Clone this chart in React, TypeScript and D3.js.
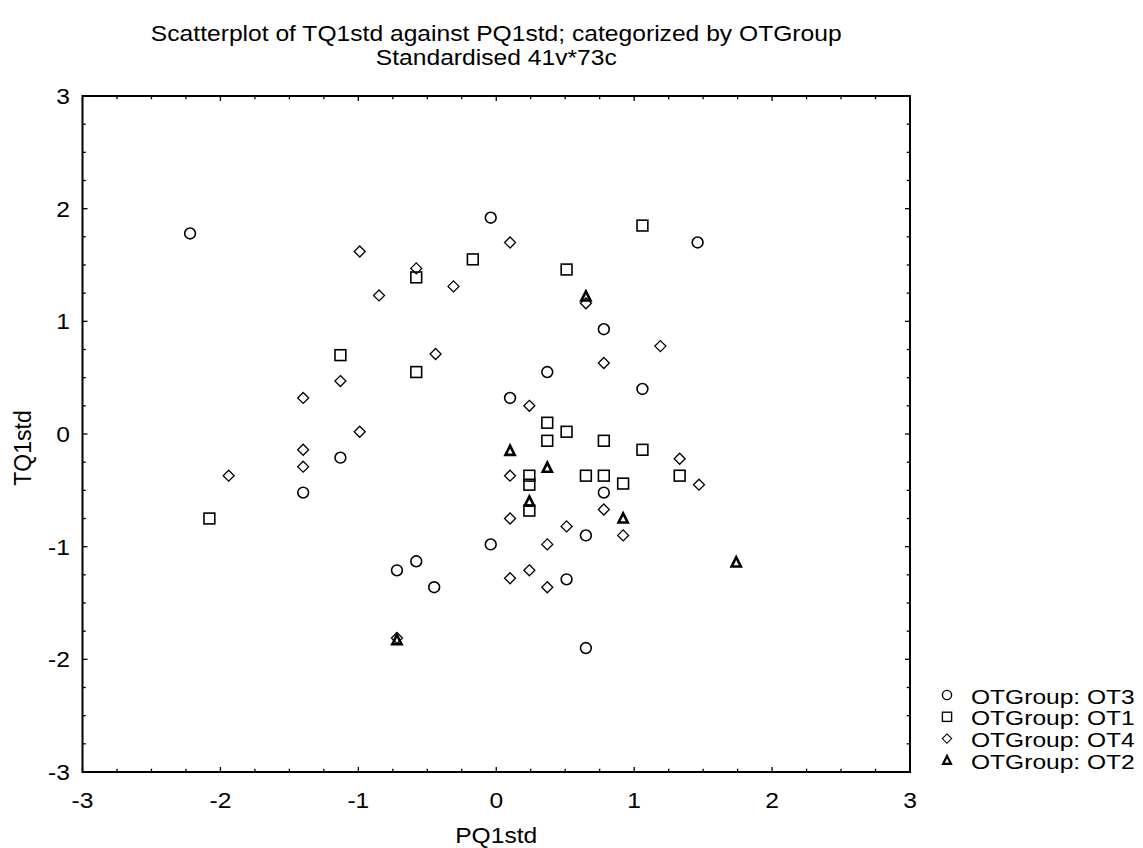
import React from "react";
import * as d3 from "d3";

const W = 1143;
const H = 848;

const titleLines = [
  "Scatterplot of TQ1std against PQ1std; categorized by OTGroup",
  "Standardised 41v*73c",
];
const xLabel = "PQ1std";
const yLabel = "TQ1std";
const tickValues = [-3, -2, -1, 0, 1, 2, 3];

// OTGroup: OT3 (circles)
const ot3X = [-2.22, -0.04, 1.46, 0.78, 0.37, 1.06, 0.10, -1.13, -1.40, 0.78, 0.65, -0.04, -0.58, -0.72, 0.51, -0.45, 0.65];
const ot3Y = [1.78, 1.92, 1.70, 0.93, 0.55, 0.40, 0.32, -0.21, -0.52, -0.52, -0.90, -0.98, -1.13, -1.21, -1.29, -1.36, -1.90];
// OTGroup: OT1 (squares)
const ot1X = [1.06, -0.17, 0.51, -0.58, -1.13, -0.58, 0.37, 0.51, 0.37, 0.78, 1.06, 0.24, 0.24, 0.65, 0.78, 0.92, 1.33, 0.24, -2.08];
const ot1Y = [1.85, 1.55, 1.46, 1.39, 0.70, 0.55, 0.10, 0.02, -0.06, -0.06, -0.14, -0.37, -0.45, -0.37, -0.37, -0.44, -0.37, -0.68, -0.75];
// OTGroup: OT4 (diamonds)
const ot4X = [0.10, -0.99, -0.58, -0.31, -0.85, 0.65, 1.19, -0.44, 0.78, -1.13, -1.40, 0.24, -0.99, -1.40, 1.33, -1.40, -1.94, 0.10, 1.47, 0.78, 0.10, 0.51, 0.92, 0.37, 0.24, 0.10, 0.37, -0.72];
const ot4Y = [1.70, 1.62, 1.47, 1.31, 1.23, 1.16, 0.78, 0.71, 0.63, 0.47, 0.32, 0.25, 0.02, -0.14, -0.22, -0.29, -0.37, -0.37, -0.45, -0.67, -0.75, -0.82, -0.90, -0.98, -1.21, -1.28, -1.36, -1.81];
// OTGroup: OT2 (triangles)
const ot2X = [0.65, 0.10, 0.37, 0.24, 0.92, 1.74, -0.72];
const ot2Y = [1.22, -0.15, -0.30, -0.60, -0.75, -1.14, -1.83];

const groups = [
  { name: "OTGroup: OT3", shape: "circle", xs: ot3X, ys: ot3Y },
  { name: "OTGroup: OT1", shape: "square", xs: ot1X, ys: ot1Y },
  { name: "OTGroup: OT4", shape: "diamond", xs: ot4X, ys: ot4Y },
  { name: "OTGroup: OT2", shape: "triangle", xs: ot2X, ys: ot2Y },
];

const FONT = "'Liberation Sans', Arial, Helvetica, sans-serif";

function Marker({ shape, x, y }: { shape: string; x: number; y: number }) {
  if (shape === "circle") {
    return <circle cx={x} cy={y} r={5.4} fill="none" stroke="#000" strokeWidth={1.6} />;
  }
  if (shape === "square") {
    return <rect x={x - 5.4} y={y - 5.4} width={10.8} height={10.8} fill="none" stroke="#000" strokeWidth={1.6} />;
  }
  if (shape === "diamond") {
    const r = 5.5;
    return (
      <path d={`M${x},${y - r}L${x + r},${y}L${x},${y + r}L${x - r},${y}Z`} fill="none" stroke="#000" strokeWidth={1.3} />
    );
  }
  const h = 4.6;
  return (
    <path d={`M${x},${y - h - 0.6}L${x + h},${y + h - 0.6}L${x - h},${y + h - 0.6}Z`} fill="none" stroke="#000" strokeWidth={2.6} strokeLinejoin="miter" />
  );
}

function SText({ x, y, anchor, size, sx, children }: any) {
  return (
    <text transform={`translate(${x},${y}) scale(${sx},1)`} textAnchor={anchor} fontSize={size} fontFamily={FONT} fill="#000">
      {children}
    </text>
  );
}

export default function App() {
  const left = 82.5, right = 910, top = 96, bottom = 772;
  const x = d3.scaleLinear().domain([-3, 3]).range([left, right]);
  const y = d3.scaleLinear().domain([-3, 3]).range([bottom, top]);
  const minor = d3.range(-3, 3.001, 0.25);

  return (
    <svg width={W} height={H} style={{ position: "absolute", left: 0, top: 0, background: "#fff" }}>
      <rect x={0} y={0} width={W} height={H} fill="#fff" />
      {titleLines.map((t, i) => (
        <SText key={i} x={(left + right) / 2} y={41 + i * 24} anchor="middle" size={22} sx={1.12}>
          {t}
        </SText>
      ))}

      {/* ticks */}
      {minor.map((v, i) => {
        const major = Math.abs(v - Math.round(v)) < 1e-6;
        const len = major ? 5 : 3.3;
        const px = x(v), py = y(v);
        return (
          <g key={i} stroke="#000" strokeWidth={1.3}>
            <line x1={px} x2={px} y1={bottom} y2={bottom - len} />
            <line x1={px} x2={px} y1={top} y2={top + len} />
            <line x1={left} x2={left + len} y1={py} y2={py} />
            <line x1={right} x2={right - len} y1={py} y2={py} />
          </g>
        );
      })}
      <rect x={left} y={top} width={right - left} height={bottom - top} fill="none" stroke="#000" strokeWidth={2} />

      {tickValues.map((v) => (
        <SText key={"x" + v} x={x(v)} y={808} anchor="middle" size={22} sx={1.12}>
          {String(v)}
        </SText>
      ))}
      {tickValues.map((v) => (
        <SText key={"y" + v} x={70} y={y(v) + 8} anchor="end" size={22} sx={1.12}>
          {String(v)}
        </SText>
      ))}

      <SText x={(left + right) / 2} y={843} anchor="middle" size={22} sx={1.12}>
        {xLabel}
      </SText>
      <text transform={`translate(31,448) rotate(-90)`} textAnchor="middle" fontSize={23} fontFamily={FONT}>
        {yLabel}
      </text>

      {groups.map((g) =>
        g.xs.map((xv, i) => <Marker key={g.name + i} shape={g.shape} x={x(xv)} y={y(g.ys[i])} />)
      )}

      {groups.map((g, i) => {
        const ly = 695 + i * 21.8;
        return (
          <g key={g.name}>
            <g transform={`translate(947,${ly}) scale(0.85)`}>
              <Marker shape={g.shape} x={0} y={0} />
            </g>
            <SText x={971} y={ly + 8.5} anchor="start" size={21} sx={1.17}>
              {g.name}
            </SText>
          </g>
        );
      })}
    </svg>
  );
}
